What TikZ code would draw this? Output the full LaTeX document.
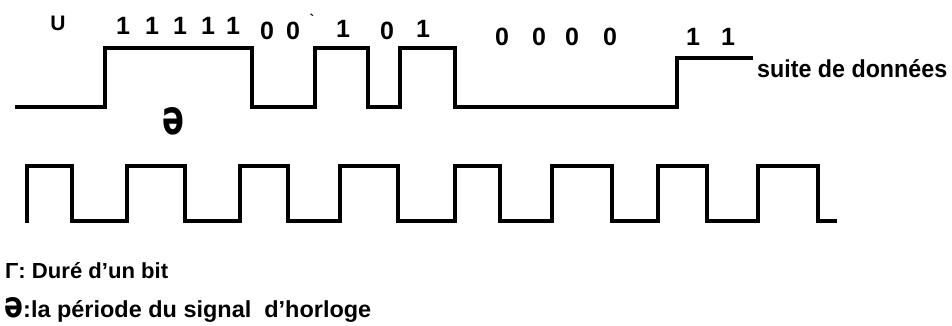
\documentclass[tikz,border=0pt]{standalone}
\usepackage{fontspec}
\setmainfont{Liberation Sans}
\newfontfamily\dejavu{DejaVu Sans}
\begin{document}
\begin{tikzpicture}[x=1pt,y=-1pt,
  font=\bfseries\fontsize{25}{28}\selectfont,
  sig/.style={line width=3.8pt, line join=miter, line cap=butt},
  lbl/.style={inner sep=0pt}]
\useasboundingbox (0,0) rectangle (952,325);
% data signal
\draw[sig] (15,107) -| (105,48) -| (252,107) -| (315,48) -| (368,107) -| (400,48) -| (455,107) -| (677,58) -- (753,58);
% clock signal
\draw[sig] (27,223) |- (72,166) |- (127,221) |- (185,166) |- (240,221) |- (288,166) |- (340,221) |- (398,166) |- (455,221) |- (500,166) |- (552,221) |- (612,166) |- (658,221) |- (707,166) |- (758,221) |- (818,166) |- (837,221);
% bit labels
\node[lbl] (u) at (58,23) {\fontsize{21}{22}\selectfont U};
\node[lbl] (b1) at (123,26) {1};
\node[lbl] (b2) at (152,26) {1};
\node[lbl] (b3) at (180,26) {1};
\node[lbl] (b4) at (208,26) {1};
\node[lbl] (b5) at (233,26) {1};
\node[lbl] (b6) at (267,31) {0};
\node[lbl] (b7) at (293,31) {0};
\node[lbl] (tick) at (312,19) {\fontsize{14}{14}\selectfont\textasciigrave};
\node[lbl] (b8) at (343,29) {1};
\node[lbl] (b9) at (387,31) {0};
\node[lbl] (b10) at (423,29) {1};
\node[lbl] (b11) at (502,37) {0};
\node[lbl] (b12) at (539,37) {0};
\node[lbl] (b13) at (572,37) {0};
\node[lbl] (b14) at (610,37) {0};
\node[lbl] (b15) at (693,37) {1};
\node[lbl] (b16) at (728,37) {1};
\node[lbl, anchor=west] (suite) at (757,69) {\resizebox{190pt}{18pt}{suite de données}};
% period symbol
\node[lbl] (per) at (173,121) {\resizebox{22pt}{27pt}{\dejavu ə}};
% legend
\node[lbl, anchor=base west] (leg1) at (5,278) {\resizebox{163pt}{16pt}{Γ: Duré d'un bit}};
\node[lbl, anchor=base west] (leg2) at (4,317) {\resizebox{19pt}{20pt}{\dejavu\bfseries ə}\resizebox{348pt}{17pt}{:la période du signal\ \ d'horloge}};
\end{tikzpicture}
\end{document}
